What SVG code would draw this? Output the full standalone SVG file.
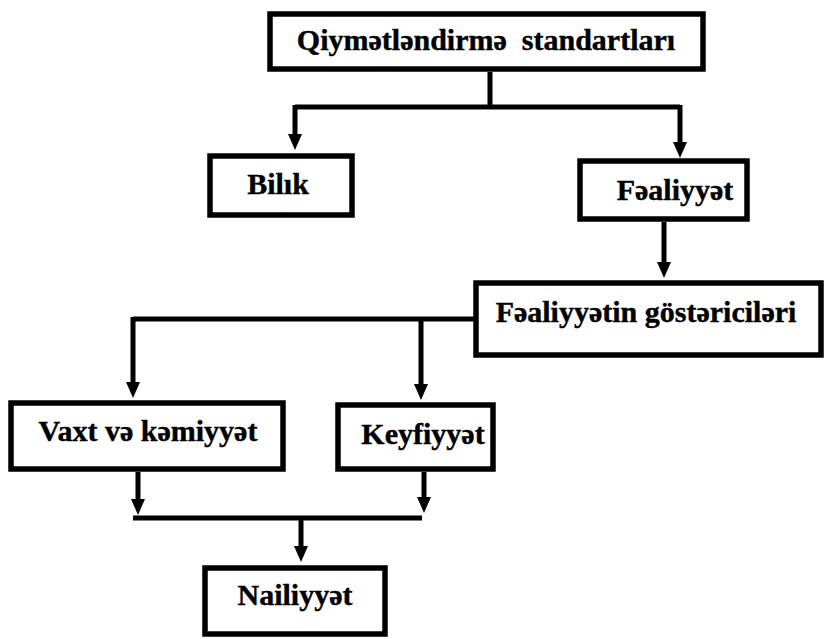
<svg xmlns="http://www.w3.org/2000/svg" width="825" height="639" viewBox="0 0 825 639">
  <defs>
    <style>
      .box { fill: #ffffff; stroke: #000000; stroke-width: 5.5; }
      .lbl { font-family: "Liberation Serif", "Times New Roman", serif; font-weight: bold; font-size: 30px; fill: #000000; stroke: #000000; stroke-width: 0.4; text-anchor: middle; }
      .con { fill: none; stroke: #000000; stroke-width: 5; stroke-linejoin: miter; }
    </style>
    <marker id="arr" markerUnits="userSpaceOnUse" viewBox="0 0 16 14" markerWidth="16" markerHeight="14" refX="6" refY="7" orient="auto">
      <path d="M0,0 L16,7 L0,14 z" fill="#000000"/>
    </marker>
  </defs>
  <rect width="825" height="639" fill="#ffffff"/>

  <g id="connectors">
    <path class="con" d="M490 72 V107"/>
    <path class="con" d="M295 107 H680" />
    <path class="con" d="M295 105 V140" marker-end="url(#arr)"/>
    <path class="con" d="M680 105 V148" marker-end="url(#arr)"/>
    <path class="con" d="M664 222 V268" marker-end="url(#arr)"/>
    <path class="con" d="M475 319 H133"/>
    <path class="con" d="M133 317 V388" marker-end="url(#arr)"/>
    <path class="con" d="M421 317 V390" marker-end="url(#arr)"/>
    <path class="con" d="M138 472 V505" marker-end="url(#arr)"/>
    <path class="con" d="M424 472 V503" marker-end="url(#arr)"/>
    <path class="con" d="M133 518 H422"/>
    <path class="con" d="M301 518 V552" marker-end="url(#arr)"/>
  </g>

  <g id="node-standartlar">
    <rect class="box" x="270" y="14" width="433" height="55"/>
    <text class="lbl" x="486" y="50" xml:space="preserve">Qiymətləndirmə  standartları</text>
  </g>
  <g id="node-bilik">
    <rect class="box" x="210" y="156" width="142" height="59"/>
    <text class="lbl" x="278" y="194">Bilık</text>
  </g>
  <g id="node-fealiyyet">
    <rect class="box" x="580" y="161" width="167" height="58"/>
    <text class="lbl" x="675" y="200">Fəaliyyət</text>
  </g>
  <g id="node-gostericiler">
    <rect class="box" x="476" y="283" width="345" height="72"/>
    <text class="lbl" x="646" y="322">Fəaliyyətin göstəriciləri</text>
  </g>
  <g id="node-vaxt">
    <rect class="box" x="11" y="403" width="272" height="66"/>
    <text class="lbl" x="148" y="441">Vaxt və kəmiyyət</text>
  </g>
  <g id="node-keyfiyyet">
    <rect class="box" x="338" y="405" width="155" height="64"/>
    <text class="lbl" x="423" y="444">Keyfiyyət</text>
  </g>
  <g id="node-nailiyyet">
    <rect class="box" x="205" y="568" width="180" height="66"/>
    <text class="lbl" x="295" y="605">Nailiyyət</text>
  </g>
</svg>
